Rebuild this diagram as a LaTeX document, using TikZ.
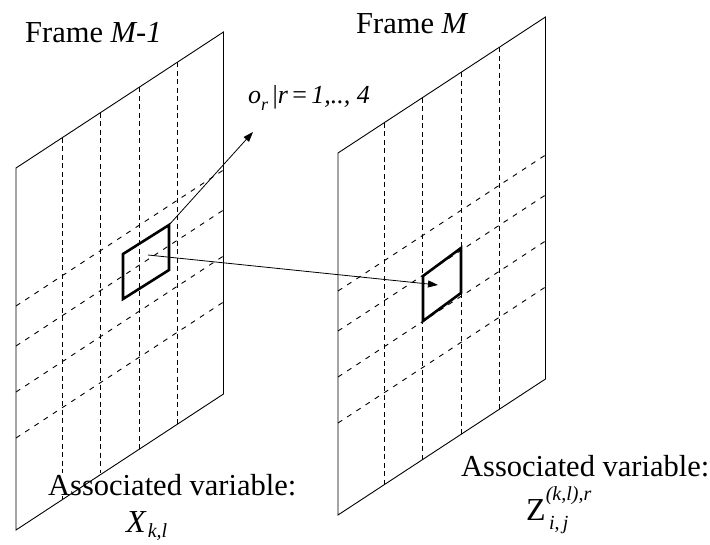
\documentclass[tikz,border=0pt]{standalone}
\usepackage{fontspec}
\setmainfont{Liberation Serif}
\usetikzlibrary{arrows.meta}
\begin{document}
\begin{tikzpicture}[x=1pt,y=-1pt,
  edge/.style={line width=0.9pt},
  vdash/.style={line width=0.9pt, dash pattern=on 5pt off 3.5pt},
  hdash/.style={line width=0.9pt, dash pattern=on 5pt off 6pt},
  cellbox/.style={line width=2.6pt, line join=miter},
  arr/.style={line width=0.8pt, -{Triangle[length=10pt,width=7pt]}},
  lbl/.style={font=\fontsize{30.5}{36}\selectfont, inner sep=0pt},
  lblw/.style={lbl, fill=white, inner sep=1pt}
]
\useasboundingbox (0,0) rectangle (710,544);
\def\W{207.5}\def\H{362}\def\sl{0.6555}
% ---------- dashed grids ----------
\foreach \ox/\oy in {16/168, 338/153}{
  \foreach \u in {46,84.5,123,161.5}
    \draw[vdash] ({\ox+\u},{\oy-\sl*\u}) -- ({\ox+\u},{\oy-\sl*\u+\H});
  \foreach \v in {138,178,224,270}
    \draw[hdash] (\ox,{\oy+\v}) -- ({\ox+\W},{\oy-\sl*\W+\v});
}
% ---------- labels ----------
\node[lbl, anchor=base west] (f1) at (25,42) {Frame \textit{M-1}};
\node[lbl, anchor=base west] (f2) at (356,33) {Frame \textit{M}};
\node[inner sep=0pt, anchor=base west, font=\fontsize{26}{30}\selectfont] (olab) at (248,103)
  {\textit{o}\raisebox{-0.28em}{\fontsize{18}{18}\selectfont\textit{r}}\,|\textit{r}\,=\,\textit{1,..,\ 4}};
\node[lblw, anchor=base west] (a1) at (47,495) {Associated variable:};
\node[inner sep=0pt, anchor=base west, font=\fontsize{32}{36}\selectfont] (x1) at (126,532)
  {\textit{X}\hspace{1pt}\raisebox{-0.16em}{\fontsize{20}{20}\selectfont\textit{k,l}}};
\node[lbl, anchor=base west] (a2) at (461,476) {Associated variable:};
\node[inner sep=0pt, anchor=base west, font=\fontsize{32}{36}\selectfont] (z2) at (526,520)
  {Z\rlap{\raisebox{0.6em}{\fontsize{20}{20}\selectfont\textit{(k,l),r}}}\raisebox{-0.3em}{\fontsize{20}{20}\selectfont\,\textit{i},\,\textit{j}}};
% ---------- frame outlines ----------
\foreach \ox/\oy in {16/168, 338/153}{
  \draw[edge] (\ox,\oy) -- ({\ox+\W},{\oy-\sl*\W}) -- ({\ox+\W},{\oy-\sl*\W+\H}) -- (\ox,{\oy+\H}) -- cycle;
}
% ---------- cells ----------
\coordinate (b1tl) at (123,254);
\coordinate (b1tr) at (169,225);
\coordinate (b1br) at (169,270);
\coordinate (b1bl) at (123,299);
\coordinate (b1c) at (148,255);
\draw[cellbox] (b1tl) -- (b1tr) -- (b1br) -- (b1bl) -- cycle;
\coordinate (b2tl) at (423,276);
\coordinate (b2tr) at (461,248);
\coordinate (b2br) at (461,293);
\coordinate (b2bl) at (423,321);
\draw[cellbox] (b2tl) -- (b2tr) -- (b2br) -- (b2bl) -- cycle;
% ---------- arrows ----------
\coordinate (dst) at (438,285);
\coordinate (otip) at (253,132);
\draw[arr] (b1c) -- (dst);
\draw[arr] (b1tr) -- (otip);
\end{tikzpicture}
\end{document}
